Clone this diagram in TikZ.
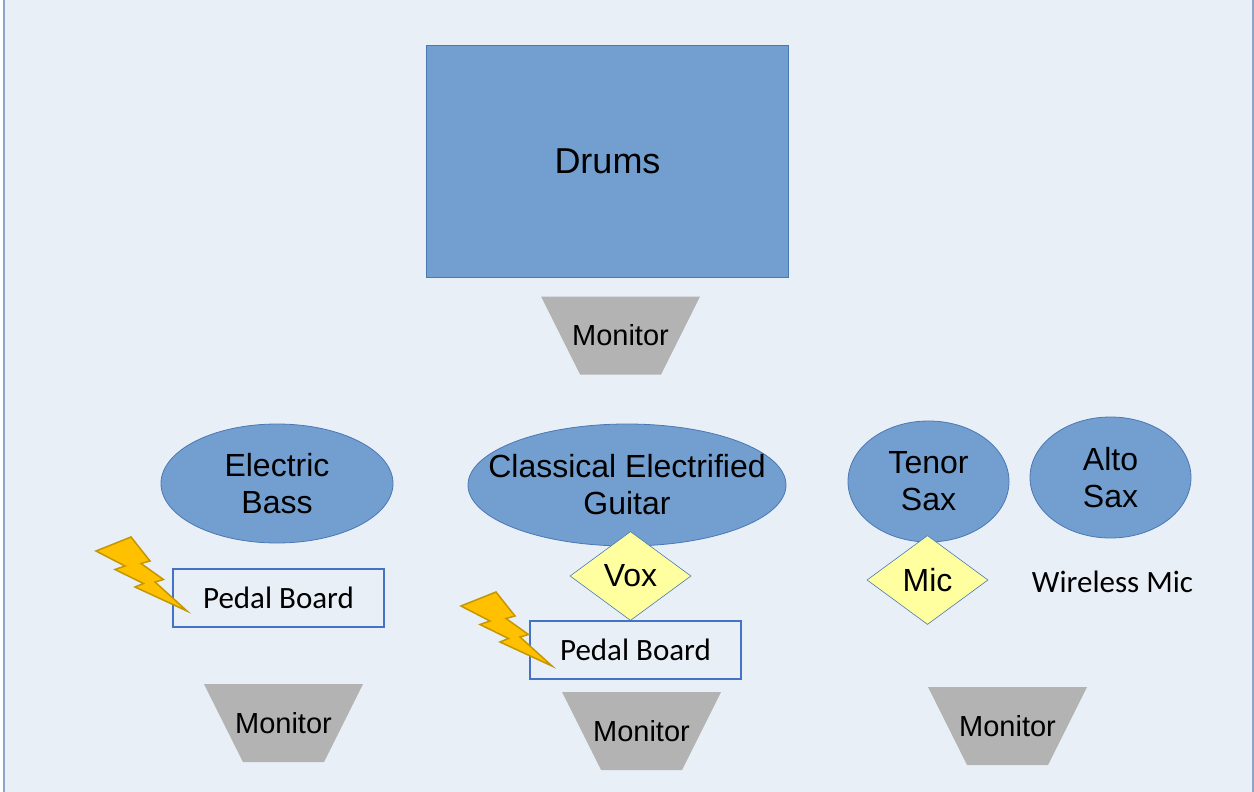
\documentclass[tikz,border=0pt]{standalone}
\usepackage{fontspec}
\setmainfont{Liberation Sans}
\newfontfamily\calibri{Carlito}
\usepackage{tikz}
\usetikzlibrary{shapes.geometric}
\usepackage{xcolor}
\definecolor{stageBg}{RGB}{233,239,247}
\definecolor{stageLine}{RGB}{142,165,200}
\definecolor{instFill}{RGB}{114,159,207}
\definecolor{instLine}{RGB}{74,120,181}
\definecolor{monGray}{RGB}{179,179,179}
\definecolor{micFill}{RGB}{255,255,160}
\definecolor{pedalLine}{RGB}{68,114,196}
\definecolor{boltFill}{RGB}{255,192,0}
\definecolor{boltLine}{RGB}{196,150,0}

\begin{document}
\begin{tikzpicture}[x=1pt, y=-1pt,
  inst/.style={ellipse, fill=instFill, draw=instLine, line width=0.8pt, inner sep=0pt,
    label={[align=center, font=\fontsize{32}{37}\selectfont]center:#1}},
  monitor/.style={rectangle, minimum width=159pt, minimum height=78pt, inner sep=0pt,
    font=\fontsize{29}{33}\selectfont,
    path picture={\fill[monGray] (path picture bounding box.north west)
      -- (path picture bounding box.north east)
      -- ([xshift=-39pt]path picture bounding box.south east)
      -- ([xshift=39pt]path picture bounding box.south west) -- cycle;}},
  mike/.style={diamond, fill=micFill, draw=instLine, line width=0.6pt, inner sep=0pt,
    minimum width=121pt, minimum height=89pt, font=\fontsize{32}{37}\selectfont},
  pedal/.style={rectangle, draw=pedalLine, line width=1.5pt, inner sep=0pt,
    minimum width=211pt, minimum height=58pt, font=\calibri\fontsize{31}{36}\selectfont},
  bolt/.style={fill=boltFill, draw=boltLine, line width=1.5pt, line join=miter}]
  \useasboundingbox (0,0) rectangle (1254,792);
  \fill[white] (0,0) rectangle (1254,792);
  \draw[stageLine, fill=stageBg, line width=1.5pt] (4,-5) rectangle (1253,797);

  % Nodes
  \node[rectangle, fill=instFill, draw=instLine, line width=0.8pt,
    minimum width=362pt, minimum height=232pt, font=\fontsize{36}{40}\selectfont]
    (drums) at (607.5,161) {Drums};
  \node[monitor] (mon0) at (620.5,335.5) {Monitor};

  \node[inst={Electric\\Bass}, minimum width=232pt, minimum height=119pt] (bass) at (277,483.5) {};
  \node[inst={Classical Electrified\\Guitar}, minimum width=318pt, minimum height=122pt] (guitar) at (627,485) {};
  \node[inst={Tenor\\Sax}, minimum width=161pt, minimum height=121pt] (tenor) at (928.5,481.5) {};
  \node[inst={Alto\\Sax}, minimum width=161pt, minimum height=121pt] (alto) at (1110.5,477.5) {};

  \node[mike] (vox) at (630.5,576) {Vox};
  \node[mike] (mic) at (927.5,580) {Mic};
  \node[font=\calibri\fontsize{31}{36}\selectfont] (wireless) at (1112.5,582) {Wireless Mic};

  \node[pedal] (pedal1) at (278.5,598) {Pedal Board};
  \node[pedal] (pedal2) at (635.5,650) {Pedal Board};

  % Monitors along the front
  \node[monitor] (mon1) at (283.5,723) {Monitor};
  \node[monitor] (mon2) at (641.5,731) {Monitor};
  \node[monitor] (mon3) at (1007.5,726) {Monitor};

  % Power for the pedal boards
  \foreach \dx/\dy in {0/0,365/55}
  {
    \draw[bolt, shift={(\dx,\dy)}] (96,551) -- (131,537) -- (150,561) -- (141,563.5)
      -- (163.5,579.5) -- (155,582) -- (187,611) -- (135,587) -- (143.5,583.5)
      -- (115,569.5) -- (125,566) -- cycle;
  }
\end{tikzpicture}
\end{document}
